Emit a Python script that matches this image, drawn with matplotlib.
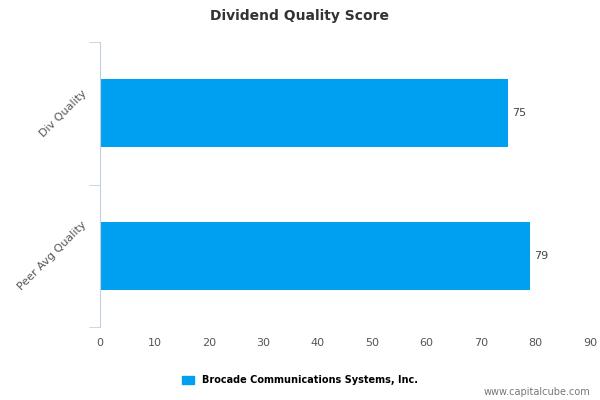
import matplotlib
matplotlib.use("Agg")
import matplotlib.pyplot as plt
from matplotlib.patches import Patch

categories = ["Div Quality", "Peer Avg Quality"]
values = [75, 79]
series_name = "Brocade Communications Systems, Inc."
xticks = [0, 10, 20, 30, 40, 50, 60, 70, 80, 90]

fig = plt.figure(figsize=(6, 4), dpi=100)
ax = fig.add_axes([100/600, 1-327/400, 490/600, 285/400])
ypos = [0, 1]
ax.barh(ypos, values, height=0.48, color="#00a0f0")
ax.set_ylim(1.5, -0.5)
ax.set_xlim(0, 90)
for y, v in zip(ypos, values):
    ax.text(v + 0.7, y, str(v), va="center", ha="left", fontsize=8, color="#444444")
ax.set_yticks(ypos)
ax.set_yticklabels(categories, rotation=45, fontsize=8, color="#555555", ha="right", va="center")
ax.set_yticks([-0.5, 0.5, 1.5], minor=True)
ax.tick_params(axis="y", which="major", length=0, pad=8)
ax.tick_params(axis="y", which="minor", length=8, color="#c0d0e0")
ax.set_xticks(xticks)
ax.tick_params(axis="x", length=0, labelsize=8, labelcolor="#555555", pad=8)
for s in ["top", "right", "bottom"]:
    ax.spines[s].set_visible(False)
ax.spines["left"].set_color("#c0d0e0")
fig.text(0.5, 1-16/400, "Dividend Quality Score", ha="center", va="center", fontsize=10, fontweight="bold", color="#333333")
fig.legend(handles=[Patch(color="#00a0f0", label=series_name)], loc="center", bbox_to_anchor=(0.5, 1-380/400),
           frameon=False, fontsize=7, prop={"weight": "bold", "size": 7}, handlelength=1.2, handleheight=0.9)
fig.text(590/600, 1-392/400, "www.capitalcube.com", ha="right", va="center", fontsize=7, color="#777777")
fig.savefig("out.png", dpi=100)
